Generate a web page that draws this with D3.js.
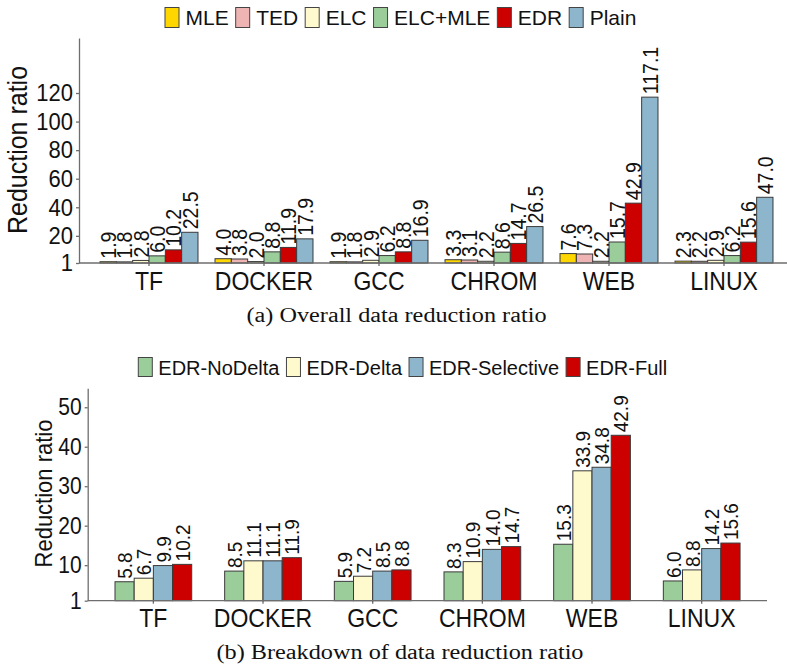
<!DOCTYPE html>
<html>
<head>
<meta charset="utf-8">
<script src="https://cdn.jsdelivr.net/npm/d3@7"></script>
<style>
  html, body { margin: 0; padding: 0; background: #fff; }
  svg { display: block; }
  .sans { font-family: "Liberation Sans", Arial, Helvetica, sans-serif; fill: #111; }
  .serif { font-family: "Liberation Serif", "Times New Roman", serif; fill: #111; }
</style>
</head>
<body>
<svg id="chart" width="787" height="669"></svg>
<script>
// ---- data -------------------------------------------------------------
const categories = ["TF", "DOCKER", "GCC", "CHROM", "WEB", "LINUX"];

// (a) overall reduction ratio
const overallSeries = ["MLE", "TED", "ELC", "ELC+MLE", "EDR", "Plain"];
const mleValues     = [1.9, 4.0, 1.9, 3.3, 7.6, 2.3];
const tedValues     = [1.8, 3.8, 1.8, 3.1, 7.3, 2.2];
const elcValues     = [2.8, 2.0, 2.9, 2.2, 2.2, 2.9];
const elcMleValues  = [6.0, 8.8, 6.2, 8.6, 15.7, 6.2];
const edrValues     = [10.2, 11.9, 8.8, 14.7, 42.9, 15.6];
const plainValues   = [22.5, 17.9, 16.9, 26.5, 117.1, 47.0];
const overallTicks  = [1, 20, 40, 60, 80, 100, 120];

// (b) breakdown of EDR
const breakdownSeries   = ["EDR-NoDelta", "EDR-Delta", "EDR-Selective", "EDR-Full"];
const noDeltaValues     = [5.8, 8.5, 5.9, 8.3, 15.3, 6.0];
const deltaValues       = [6.7, 11.1, 7.2, 10.9, 33.9, 8.8];
const selectiveValues   = [9.9, 11.1, 8.5, 14.0, 34.8, 14.2];
const fullValues        = [10.2, 11.9, 8.8, 14.7, 42.9, 15.6];
const breakdownTicks    = [1, 10, 20, 30, 40, 50];

const overallColors   = ["#FFD700", "#EEB4B4", "#FFFACD", "#9BCD9B", "#CD0000", "#8DB6CD"];
const breakdownColors = ["#9BCD9B", "#FFFACD", "#8DB6CD", "#CD0000"];

// ---- drawing ----------------------------------------------------------
const svg = d3.select("#chart");
const AXIS = "#6e6e6e";
const NARROW = 0.9;   // glyph width relative to height for the figure's sans text

// render sans text slightly narrow: bigger font, squeezed back along the line
function narrow(sel, size) {
  sel.style("font-size", (size / NARROW) + "px").each(function () {
    const len = this.getComputedTextLength();
    d3.select(this).attr("textLength", len * NARROW).attr("lengthAdjust", "spacingAndGlyphs");
  });
}

function legend(g, names, colors, opt) {
  let x = opt.x;
  names.forEach((name, i) => {
    g.append("rect")
      .attr("x", x).attr("y", opt.boxY)
      .attr("width", 14).attr("height", opt.boxH)
      .attr("fill", colors[i]).attr("stroke", "#444").attr("stroke-width", 1);
    x += 14 + opt.gapIn;
    const t = g.append("text").attr("class", "sans")
      .attr("x", x).attr("y", opt.baseY)
      .style("font-size", opt.size + "px").text(name);
    x += t.node().getComputedTextLength() + opt.gapOut;
  });
}

function panel(cfg) {
  const g = svg.append("g");
  const rows = cfg.series.map((name, si) => ({ name, values: cfg.values[si] }));

  const x0 = d3.scaleBand().domain(categories)
    .range(cfg.xRange).paddingInner(cfg.padIn).paddingOuter(cfg.padOut);
  const x1 = d3.scaleBand().domain(cfg.series).range([0, x0.bandwidth()]).padding(0);
  const y = d3.scaleLinear().domain(cfg.yDomain).range([cfg.baseY, cfg.topY]);

  // y axis
  const ya = g.append("g").attr("transform", `translate(${cfg.axisX},0)`)
    .call(d3.axisLeft(y).tickValues(cfg.ticks).tickSize(3).tickSizeOuter(0).tickPadding(3));
  ya.select(".domain").attr("stroke", AXIS).attr("stroke-width", 1.3);
  ya.selectAll(".tick line").attr("stroke", AXIS).attr("stroke-width", 1.3);
  ya.selectAll(".tick text").attr("class", "sans").attr("fill", "#111")
    .call(narrow, cfg.tickSize);

  // x axis
  const xa = g.append("g").attr("transform", `translate(0,${cfg.baseY})`)
    .call(d3.axisBottom(x0).tickSize(3).tickSizeOuter(0).tickPadding(cfg.catPad));
  xa.select(".domain").remove();
  xa.selectAll(".tick line").attr("stroke", AXIS).attr("stroke-width", 1.3);
  xa.selectAll(".tick text").attr("class", "sans").attr("fill", "#111")
    .call(narrow, cfg.catSize);

  // bars
  const groups = g.selectAll(".grp").data(categories).join("g")
    .attr("transform", c => `translate(${x0(c)},0)`);
  groups.selectAll("rect")
    .data((c, ci) => rows.map((r, si) => ({ s: r.name, si, v: r.values[ci] })))
    .join("rect")
    .attr("x", d => x1(d.s)).attr("width", x1.bandwidth())
    .attr("y", d => y(d.v)).attr("height", d => y(cfg.yDomain[0]) - y(d.v))
    .attr("fill", d => cfg.colors[d.si]).attr("stroke", "#3a3a3a").attr("stroke-width", 1);

  // x axis line drawn over bar bottoms
  g.append("line").attr("x1", cfg.axisX).attr("x2", cfg.xLineEnd)
    .attr("y1", cfg.baseY).attr("y2", cfg.baseY)
    .attr("stroke", AXIS).attr("stroke-width", 1.3);

  // value labels
  groups.selectAll("text.val")
    .data((c, ci) => rows.map((r, si) => ({ s: r.name, v: r.values[ci] })))
    .join("text").attr("class", "sans val")
    .attr("transform", d => `translate(${x1(d.s) + x1.bandwidth() / 2},${y(d.v) - 3}) rotate(-90)`)
    .attr("dy", "0.36em")
    .text(d => d.v.toFixed(1))
    .call(narrow, cfg.labelSize);

  // y title
  g.append("text").attr("class", "sans")
    .attr("transform", `translate(${cfg.titleX},${cfg.titleY}) rotate(-90)`)
    .attr("text-anchor", "middle")
    .text("Reduction ratio")
    .call(narrow, cfg.titleSize);

  // caption
  g.append("text").attr("class", "serif")
    .attr("x", cfg.capX).attr("y", cfg.capY)
    .attr("textLength", cfg.capLen).attr("lengthAdjust", "spacingAndGlyphs")
    .style("font-size", "20px")
    .text(cfg.caption);

  legend(g, cfg.series, cfg.colors, cfg.legend);
}

panel({
  series: overallSeries,
  values: [mleValues, tedValues, elcValues, elcMleValues, edrValues, plainValues],
  colors: overallColors,
  ticks: overallTicks,
  yDomain: [1, 158.5], baseY: 263, topY: 38,
  axisX: 79, xLineEnd: 787,
  xRange: [91.5, 781.5], padIn: 0.148, padOut: 0.074,
  tickSize: 22, catSize: 23, catPad: 5.5, labelSize: 19.5,
  titleX: 26.5, titleY: 150, titleSize: 25,
  caption: "(a) Overall data reduction ratio", capX: 246.5, capY: 322, capLen: 300,
  legend: { x: 165, boxY: 7.5, boxH: 20, baseY: 25, size: 21, gapIn: 6.5, gapOut: 7 }
});

panel({
  series: breakdownSeries,
  values: [noDeltaValues, deltaValues, selectiveValues, fullValues],
  colors: breakdownColors,
  ticks: breakdownTicks,
  yDomain: [1, 54.8], baseY: 600.7, topY: 388.3,
  axisX: 87.7, xLineEnd: 767,
  xRange: [98.55, 756.5], padIn: 0.3005, padOut: 0.15,
  tickSize: 21, catSize: 23, catPad: 5.5, labelSize: 19,
  titleX: 51.5, titleY: 493.5, titleSize: 22,
  caption: "(b) Breakdown of data reduction ratio", capX: 216.5, capY: 659, capLen: 367,
  legend: { x: 138.3, boxY: 357.5, boxH: 19, baseY: 375, size: 20, gapIn: 6, gapOut: 7 }
});
</script>
</body>
</html>
